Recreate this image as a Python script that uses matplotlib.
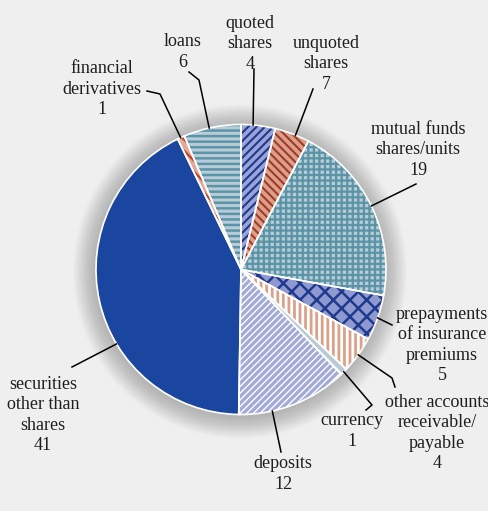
import numpy as np
import matplotlib.pyplot as plt
from matplotlib.patches import Wedge, Circle

# slices clockwise from 12 o'clock
categories = ['quoted\nshares', 'unquoted\nshares', 'mutual funds\nshares/units',
              'prepayments\nof insurance\npremiums', 'other accounts\nreceivable/\npayable',
              'currency', 'deposits', 'securities\nother than\nshares',
              'financial\nderivatives', 'loans']
label_values = [4, 7, 19, 5, 4, 1, 12, 41, 1, 6]
# slice sizes as drawn in the picture (%)
slice_shares = [3.8, 3.9, 20.2, 5.1, 4.1, 0.8, 12.4, 42.6, 0.8, 6.4]

faces = ['#9ba4d8', '#dba08a', '#b8ccd7', '#8f99d1', '#dba08a',
         '#b8ccd7', '#a2aad9', '#1a46a0', '#e2aa98', '#b8ccd7']
hatches = ['////', '\\\\\\\\', '+++', 'xx', '|||', '\\\\\\', '/////', None, '\\\\\\', '---']
hatch_colors = ['#1f3a8c', '#a23a2a', '#5b94a6', '#1f3a8c', 'white',
                'white', 'white', None, '#c0432e', '#5b94a6']
hatch_widths = [1.5, 1.5, 1.6, 1.8, 2.0, 2.4, 1.0, 0, 1.6, 1.8]

# layout (pixel coords of the 489x511 canvas)
cx, cy, r = 241, 269.5, 145
text_pos = [(250, 44), (326, 64), (418, 150), (442, 345), (437, 433),
            (352, 431), (283, 474), (43, 415), (102, 89), (183, 52)]
anchor_frac = [0.35, 0.6, 0.5, 0.5, 0.5, 0.5, 0.7, 0.38, 0.45, 0.45]
elbows = [[(254, 69)], [(313, 89)], [(416, 184)], [(392, 325)],
          [(392, 378), (395, 387)], [(372, 405), (366, 410)], [(281, 452)],
          [(72, 367)], [(160, 94), (147, 91)], [(199, 80), (189, 72)]]

plt.rcParams['hatch.linewidth'] = 1.5

fig = plt.figure(figsize=(4.89, 5.11), dpi=100, facecolor='#efefef')
ax = fig.add_axes([0, 0, 1, 1])
ax.set_facecolor('#efefef')

# soft shadow round the pie
for k in range(22, 0, -1):
    ax.add_patch(Circle((cx - 1, cy + 2), r + k, facecolor='#707070',
                        edgecolor='none', alpha=0.022, zorder=0))

wedges, _ = ax.pie(slice_shares, colors=faces, startangle=-90, counterclock=True,
                   center=(cx, cy), radius=r, wedgeprops=dict(linewidth=0))
for w, h, hc, hw in zip(wedges, hatches, hatch_colors, hatch_widths):
    w.set_zorder(2)
    if h:
        w.set_hatch(h)
        w.set_edgecolor(hc)
        w.set_linewidth(0)
        if hasattr(w, 'set_hatch_linewidth'):
            w.set_hatch_linewidth(hw)
    ax.add_patch(Wedge((cx, cy), r, w.theta1, w.theta2, facecolor='none',
                       edgecolor='white', linewidth=1.2, zorder=3))

for w, cat, val, pos, frac, pts in zip(wedges, categories, label_values,
                                      text_pos, anchor_frac, elbows):
    ang = np.deg2rad(w.theta1 + frac * (w.theta2 - w.theta1))
    xs = [cx + r * np.cos(ang)] + [p[0] for p in pts]
    ys = [cy + r * np.sin(ang)] + [p[1] for p in pts]
    ax.plot(xs, ys, color='black', lw=1.1, zorder=4)
    ax.text(pos[0], pos[1], f'{cat}\n{val}', ha='center', va='center',
            fontsize=13, family='Liberation Serif', linespacing=1.28,
            color='#1e1e1e', zorder=5)

ax.set_xlim(0, 489)
ax.set_ylim(511, 0)
ax.set_aspect('auto')
ax.axis('off')

fig.savefig('out.png', dpi=100, facecolor=fig.get_facecolor())
